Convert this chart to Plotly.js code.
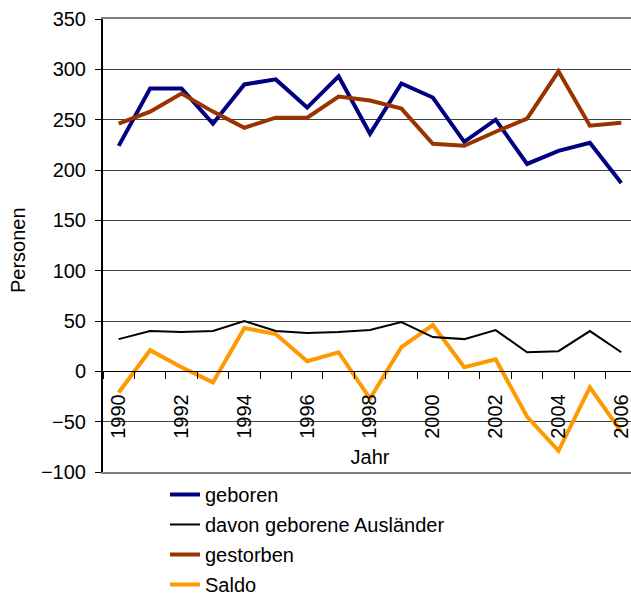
<!DOCTYPE html>
<html>
<head>
<meta charset="utf-8">
<script src="https://cdn.plot.ly/plotly-3.0.1.min.js"></script>
<style>
  html, body { margin: 0; padding: 0; overflow: hidden; background: #fff; }
  #chart { width: 637px; height: 596px; }
</style>
</head>
<body>
<div id="chart"></div>
<script>
// Jahre 1990 - 2006
const jahre = [1990, 1991, 1992, 1993, 1994, 1995, 1996, 1997, 1998,
               1999, 2000, 2001, 2002, 2003, 2004, 2005, 2006];

const geboren    = [224, 281, 281, 246, 285, 290, 262, 293, 236, 286, 272, 228, 250, 206, 219, 227, 187];
const auslaender = [32, 40, 39, 40, 50, 40, 38, 39, 41, 49, 34, 32, 41, 19, 20, 40, 19];
const gestorben  = [246, 258, 276, 258, 242, 252, 252, 273, 269, 261, 226, 224, 238, 251, 298, 244, 247];
const saldo      = [-21, 21, 4, -11, 43, 37, 10, 19, -27, 24, 46, 4, 12, -45, -79, -16, -60];

const FONT = "Liberation Sans, Arial, sans-serif";
const W = 637;
const xRange = [1989.5, 2006.5];
const zeroPos = 100 / 450;   // Lage von y = 0 im Plotbereich

function serie(name, y, color, width, group, xa) {
  return {
    x: jahre, y: y, name: name, type: "scatter", mode: "lines",
    line: { color: color, width: width },
    xaxis: xa, legendgroup: group
  };
}

const traces = [
  serie("geboren", geboren, "#000080", 4, "a", "x"),
  serie("davon geborene Ausländer", auslaender, "#000000", 2, "b", "x3"),
  serie("gestorben", gestorben, "#993300", 4, "c", "x"),
  serie("Saldo", saldo, "#FF9900", 4, "d", "x2")
];

const layout = {
  width: W, height: 596,
  margin: { l: 103, r: 0, t: 19, b: 124, autoexpand: false },
  paper_bgcolor: "#fff", plot_bgcolor: "#fff",
  font: { family: FONT, size: 20, color: "#000" },
  showlegend: true,
  // Rahmen unten/oben
  xaxis: {
    range: xRange, showgrid: false, zeroline: false,
    showticklabels: false, ticks: "", automargin: false,
    showline: true, linecolor: "#808080", linewidth: 2, mirror: true
  },
  // Beschriftung der Achse bei y = 0
  xaxis2: {
    overlaying: "x", anchor: "free", position: zeroPos,
    range: xRange, showgrid: false, zeroline: false,
    tickmode: "linear", tick0: 1990, dtick: 2,
    tickangle: -90, ticks: "outside", ticklen: 8, tickcolor: "rgba(0,0,0,0)",
    ticklabelstandoff: 6,
    showline: true, linecolor: "#000", linewidth: 1, automargin: false,
    tickfont: { size: 20 },
    title: { text: "Jahr", font: { size: 20 }, standoff: 12 }
  },
  // Teilstriche zwischen den Jahren
  xaxis3: {
    overlaying: "x", anchor: "free", position: zeroPos,
    range: xRange, showgrid: false, zeroline: false,
    tickmode: "linear", tick0: 1990.5, dtick: 1,
    ticks: "outside", ticklen: 7, tickcolor: "#000", tickwidth: 1,
    showticklabels: false, showline: false, automargin: false
  },
  yaxis: {
    range: [-100, 350], dtick: 50, tick0: 0,
    showgrid: true, gridcolor: "#404040", gridwidth: 1,
    zeroline: false, automargin: false,
    showline: true, linecolor: "#000", linewidth: 2,
    ticks: "outside", ticklen: 6, tickcolor: "#000",
    ticklabelstandoff: 5,
    tickfont: { size: 20 }
  },
  annotations: [{
    text: "Personen", textangle: -90, showarrow: false,
    xref: "paper", yref: "paper", x: (18 - 103) / 534, y: 0.49,
    xanchor: "center", yanchor: "middle", font: { size: 20 }
  }],
  legend: {
    xref: "container", yref: "container",
    x: 165 / W, y: 1 - 475 / 596, xanchor: "left", yanchor: "top",
    orientation: "v", traceorder: "grouped", tracegroupgap: 1,
    font: { size: 20 }, bgcolor: "rgba(0,0,0,0)"
  }
};

Plotly.newPlot("chart", traces, layout, { displayModeBar: false, staticPlot: true });
</script>
</body>
</html>
